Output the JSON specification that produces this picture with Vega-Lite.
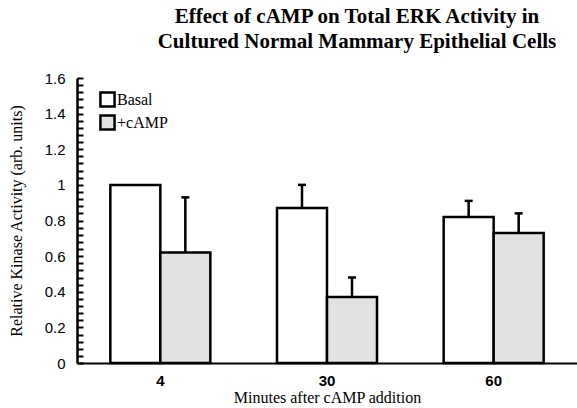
{
  "$schema": "https://vega.github.io/schema/vega-lite/v6.json",
  "width": 500,
  "height": 285,
  "autosize": "none",
  "padding": {"left": 77, "top": 78, "right": 0, "bottom": 45},
  "background": "white",
  "config": {"view": {"stroke": null}},
  "title": {
    "text": ["Effect of cAMP on Total ERK Activity in", "Cultured Normal Mammary Epithelial Cells"],
    "font": "Liberation Serif",
    "fontSize": 21,
    "fontWeight": "bold",
    "color": "black",
    "anchor": "middle",
    "frame": "group",
    "dx": 30,
    "offset": 19,
    "lineHeight": 25
  },
  "data": {
    "values": [
      {"time": "4", "cond": "Basal", "value": 1.0, "upper": null},
      {"time": "4", "cond": "+cAMP", "value": 0.62, "upper": 0.93},
      {"time": "30", "cond": "Basal", "value": 0.87, "upper": 1.0},
      {"time": "30", "cond": "+cAMP", "value": 0.37, "upper": 0.48},
      {"time": "60", "cond": "Basal", "value": 0.82, "upper": 0.91},
      {"time": "60", "cond": "+cAMP", "value": 0.73, "upper": 0.84}
    ]
  },
  "encoding": {
    "x": {
      "field": "time",
      "type": "ordinal",
      "sort": ["4", "30", "60"],
      "scale": {"paddingInner": 0.4, "paddingOuter": 0.2},
      "axis": {
        "title": "Minutes after cAMP addition",
        "titleFont": "Liberation Serif",
        "titleFontSize": 16,
        "titleFontWeight": "normal",
        "titleColor": "black",
        "titlePadding": 1,
        "labelAngle": 0,
        "labelFont": "Liberation Sans",
        "labelFontSize": 15,
        "labelFontWeight": "bold",
        "labelColor": "black",
        "labelPadding": 10,
        "ticks": false,
        "domainColor": "black",
        "domainWidth": 2
      }
    },
    "xOffset": {"field": "cond", "type": "nominal", "sort": ["Basal", "+cAMP"], "scale": {"paddingInner": 0, "paddingOuter": 0}},
    "y": {
      "field": "value",
      "type": "quantitative",
      "scale": {"domain": [0, 1.6], "nice": false},
      "axis": {
        "title": "Relative Kinase Activity (arb. units)",
        "titleFont": "Liberation Serif",
        "titleFontSize": 16,
        "titleFontWeight": "normal",
        "titleColor": "black",
        "titlePadding": 20,
        "values": [0,0.04,0.08,0.12,0.16,0.2,0.24,0.28,0.32,0.36,0.4,0.44,0.48,0.52,0.56,0.6,0.64,0.68,0.72,0.76,0.8,0.84,0.88,0.92,0.96,1,1.04,1.08,1.12,1.16,1.2,1.24,1.28,1.32,1.36,1.4,1.44,1.48,1.52,1.56,1.6],
        "labelExpr": "abs(datum.value*5 - round(datum.value*5)) < 0.001 ? format(datum.value, '.1~f') : ''",
        "labelOverlap": false,
        "labelFont": "Liberation Sans",
        "labelFontSize": 15,
        "labelColor": "black",
        "labelPadding": 18,
        "tickSize": -6,
        "tickWidth": 2,
        "tickColor": "black",
        "domainColor": "black",
        "domainWidth": 2.5,
        "grid": false
      }
    }
  },
  "layer": [
    {
      "mark": {"type": "bar", "stroke": "black", "strokeWidth": 2.5},
      "encoding": {
        "color": {
          "field": "cond",
          "type": "nominal",
          "scale": {"domain": ["Basal", "+cAMP"], "range": ["#ffffff", "#e2e2e2"]},
          "legend": {
            "title": null,
            "orient": "none",
            "legendX": 22,
            "legendY": 13,
            "symbolType": "square",
            "symbolSize": 200,
            "symbolStrokeColor": "black",
            "symbolStrokeWidth": 2.5,
            "symbolOpacity": 1,
            "labelFont": "Liberation Serif",
            "labelFontSize": 16,
            "labelColor": "black",
            "labelOffset": 1,
            "rowPadding": -2
          }
        }
      }
    },
    {
      "transform": [{"filter": "datum.upper != null"}],
      "mark": {"type": "rule", "color": "black", "strokeWidth": 2.5},
      "encoding": {
        "y2": {"field": "upper"}
      }
    },
    {
      "transform": [{"filter": "datum.upper != null"}],
      "mark": {"type": "tick", "color": "black", "thickness": 2.5, "size": 8, "opacity": 1},
      "encoding": {
        "y": {"field": "upper", "type": "quantitative"}
      }
    }
  ]
}
